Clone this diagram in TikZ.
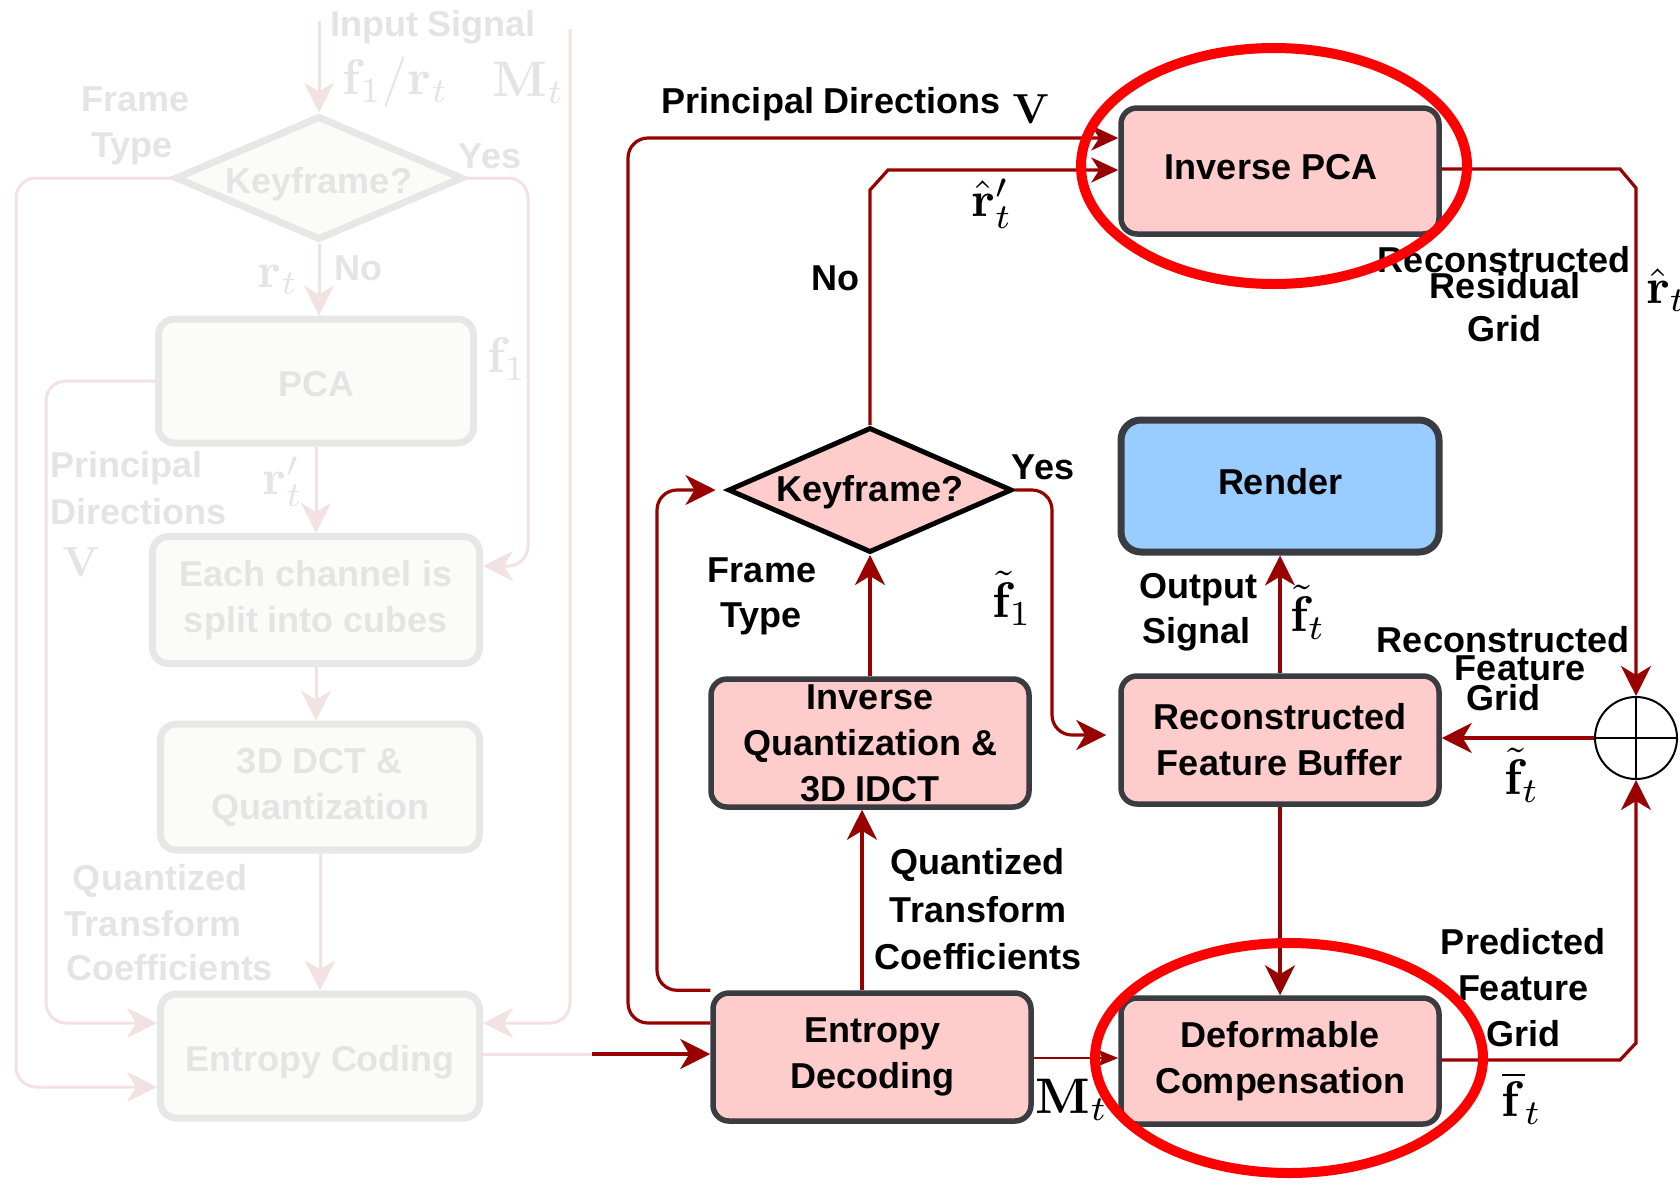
\documentclass[tikz,border=0pt]{standalone}
\usepackage[no-math]{fontspec}
\setmainfont{Liberation Sans}
\usetikzlibrary{arrows.meta,shapes.geometric}
\definecolor{dred}{HTML}{990000}
\definecolor{boxpink}{HTML}{FFCCCC}
\definecolor{boxblue}{HTML}{99CCFF}
\definecolor{boxedge}{HTML}{3B3C41}
\definecolor{fadetext}{HTML}{E4E4E4}
\definecolor{fadeedge}{HTML}{E7E7E7}
\definecolor{fadefill}{HTML}{FBFCF8}
\definecolor{fadeline}{HTML}{F3E2E2}
\definecolor{hired}{HTML}{FF0000}
\begin{document}
\begin{tikzpicture}[x=1pt,y=-1pt,
  mbox/.style={draw=boxedge, line width=5.5pt, fill=boxpink, rounded corners=16pt,
    minimum width=318pt, minimum height=128pt, inner sep=0pt, align=center,
    font=\fontsize{36}{46}\selectfont\bfseries},
  fadebox/.style={draw=fadeedge, line width=7pt, fill=fadefill, rounded corners=16pt,
    inner sep=0pt, align=center, text=fadetext, font=\fontsize{36}{46}\selectfont\bfseries},
  oneline/.style={text height=#1, text depth=0pt},
  oneline/.default=26pt,
  lab/.style={font=\fontsize{36}{40}\selectfont\bfseries, inner sep=0pt, text height=26pt, text depth=0pt},
  flab/.style={lab, text=fadetext},
  mlab/.style={inner sep=0pt, scale=5},
  vlab/.style={inner sep=0pt, scale=4.2},
  fmlab/.style={mlab, text=fadetext},
  conn/.style={draw=dred, line width=3.2pt},
  fconn/.style={draw=fadeline, line width=3pt},
  bigarrow/.style={-{Stealth[length=30pt,width=30pt,inset=9pt]}},
  medarrow/.style={-{Stealth[length=27pt,width=25pt,inset=8pt]}},
  smallarrow/.style={-{Stealth[length=20pt,width=16pt,inset=4pt]}},
]
\useasboundingbox (0,0) rectangle (1680,1184);
\clip (0,0) rectangle (1680,1184);

% ---------------- faded encoder (left) ----------------
\node[diamond, aspect=2.3, draw=fadeedge, line width=7pt, fill=fadefill, minimum width=288pt,
  minimum height=124pt, inner sep=0pt, text=fadetext, oneline=30pt,
  font=\fontsize{36}{46}\selectfont\bfseries] (fkf) at (319,178) {Keyframe?};
\node[fadebox, oneline=30pt, minimum width=315pt, minimum height=124pt] (fpca) at (316,381) {PCA};
\node[fadebox, minimum width=327pt, minimum height=127pt] (fsplit) at (316,600) {Each channel is\\split into cubes};
\node[fadebox, minimum width=319pt, minimum height=126pt] (fdct) at (320,787) {3D DCT \&\\Quantization};
\node[fadebox, oneline=30pt, minimum width=319pt, minimum height=124pt] (fec) at (320,1056) {Entropy Coding};

\coordinate (fin) at (319,21);
\coordinate (fmt) at (570,29);
\coordinate (fout) at (592,1054);

\draw[fconn,bigarrow] (fin) -- (fkf.north);
\draw[fconn,bigarrow] (fkf.south) -- (fkf.south |- fpca.north);
\draw[fconn,bigarrow] (fpca.south) -- (fpca.south |- fsplit.north);
\draw[fconn,bigarrow] (fsplit.south) -- (fsplit.south |- fdct.north);
\draw[fconn,bigarrow] (fdct.south) -- (fdct.south |- fec.north);
\draw[fconn,rounded corners=20pt,bigarrow] (fkf.west) -- (16,178) -- (16,1087) -- (fec.west |- 0,1087);
\draw[fconn,rounded corners=20pt,bigarrow] (fpca.west) -- (46,381) -- (46,1023) -- (fec.west |- 0,1023);
\draw[fconn,rounded corners=20pt,bigarrow] (fkf.east) -- (528,178) -- (528,566) -- (fsplit.east |- 0,566);
\draw[fconn,rounded corners=20pt,bigarrow] (fmt) -- (570,1023) -- (fec.east |- 0,1023);
\draw[fconn] (fec.east |- fout) -- (fout);

\node[flab] (fl1) at (433,23) {Input Signal};
\node[fmlab] (fl2) at (396,82) {$\mathbf{f}_1/\mathbf{r}_t$};
\node[fmlab] (fl3) at (529,83) {$\mathbf{M}_t$};
\node[flab] (fl4) at (136,98) {Frame};
\node[flab] (fl5) at (132,144) {Type};
\node[flab] (fl6) at (490,155) {Yes};
\node[fmlab] (fl7) at (278,280) {$\mathbf{r}_t$};
\node[flab] (fl8) at (358,267) {No};
\node[fmlab] (fl9) at (507,359) {$\mathbf{f}_1$};
\node[flab, anchor=west] (fl10) at (50,464) {Principal};
\node[flab, anchor=west] (fl11) at (50,511) {Directions};
\node[vlab, text=fadetext] (fl12) at (81,562) {$\mathbf{V}$};
\node[fmlab] (fl13) at (283,482) {$\mathbf{r}'_t$};
\node[flab] (fl14) at (160,877) {Quantized};
\node[flab] (fl15) at (153,923) {Transform};
\node[flab] (fl16) at (170,967) {Coefficients};

% ---------------- decoder (right) ----------------
\node[mbox, oneline=16pt, minimum height=126pt] (invpca) at (1280,171) {Inverse PCA\hspace{18pt}};
\node[mbox, oneline=16pt, fill=boxblue, minimum height=132pt, rounded corners=20pt, line width=7pt] (render) at (1280,486) {Render};
\node[mbox] (rfb) at (1280,740) {Reconstructed\\Feature Buffer};
\node[mbox, minimum height=126pt] (dc) at (1280,1061) {Deformable\\Compensation};
\node[mbox] (ed) at (872,1057) {Entropy\\Decoding};
\node[mbox] (iq) at (870,743) {Inverse\\Quantization \&\\3D IDCT};
\node[diamond, aspect=2.27, draw=black, line width=5pt, fill=boxpink, minimum width=284pt,
  minimum height=125pt, inner sep=0pt, oneline=22pt, font=\fontsize{36}{46}\selectfont\bfseries] (kf) at (870,490) {Keyframe?};
\node[circle, draw=black, line width=2pt, minimum size=82pt, inner sep=0pt] (sum) at (1636,738) {};
\draw[line width=2pt] (sum.north) -- (sum.south) (sum.west) -- (sum.east);

\draw[conn,bigarrow] (fout) -- (ed.west |- fout);
\draw[conn,rounded corners=20pt,medarrow] (ed.west |- 0,1023) -- (628,1023) -- (628,138) -- (invpca.west |- 0,138);
\draw[conn,rounded corners=20pt,bigarrow,shorten >=10pt] (ed.north west) -- (ed.north west -| 657,0) -- (657,490) -- (kf.west);
\draw[conn,medarrow] (kf.north) -- (870,190) -- (888,170) -- (invpca.west |- 0,170);
\draw[conn,rounded corners=20pt,bigarrow,shorten >=12pt] (kf.east) -- (1052,490) -- (1052,735) -- (rfb.west |- 0,735);
\draw[conn,bigarrow] (invpca.east |- 0,169) -- (1620,169) -- (1636,188) -- (sum.north);
\draw[conn,bigarrow] (sum.west) -- (rfb.east |- sum.west);
\draw[conn,bigarrow] (dc.east |- 0,1060) -- (1620,1060) -- (1636,1043) -- (sum.south);
\draw[conn,bigarrow] (rfb.north) -- (render.south);
\draw[conn,bigarrow] (rfb.south) -- (dc.north);
\draw[conn,bigarrow] ([xshift=-10pt]ed.north) -- ([xshift=-10pt]ed.north |- iq.south);
\draw[conn,bigarrow] (iq.north) -- (kf.south);
\draw[conn,line width=2.6pt,smallarrow] (ed.east |- 0,1058) -- (dc.west |- 0,1058);

\node[lab] (l1) at (831,100) {Principal Directions};
\node[vlab] (l2) at (1031,109) {$\mathbf{V}$};
\node[mlab] (l3) at (992,204) {$\hat{\mathbf{r}}'_t$};
\node[lab] (l4) at (835,277) {No};
\node[lab] (l5) at (1043,466) {Yes};
\node[lab] (l6) at (762,569) {Frame};
\node[lab] (l7) at (761,614) {Type};
\node[mlab] (l8) at (1012,598) {$\tilde{\mathbf{f}}_1$};
\node[lab] (l9) at (1198,585) {Output};
\node[lab] (l10) at (1196,630) {Signal};
\node[mlab] (l11) at (1308,612) {$\tilde{\mathbf{f}}_t$};
\node[lab] (l12) at (1504,259) {Reconstructed};
\node[lab] (l13) at (1505,285) {Residual};
\node[lab] (l14) at (1504,328) {Grid};
\node[mlab, anchor=west] (l15) at (1645,290) {$\hat{\mathbf{r}}_t$};
\node[lab] (l16) at (1503,639) {Reconstructed};
\node[lab] (l17) at (1520,667) {Feature};
\node[lab] (l18) at (1503,697) {Grid};
\node[mlab] (l19) at (1522,775) {$\tilde{\mathbf{f}}_t$};
\node[lab] (l20) at (977,861) {Quantized};
\node[lab] (l21) at (978,909) {Transform};
\node[lab] (l22) at (978,956) {Coefficients};
\node[mlab] (l23) at (1072,1100) {$\mathbf{M}_t$};
\node[lab] (l24) at (1523,941) {Predicted};
\node[lab] (l25) at (1523,987) {Feature};
\node[lab] (l26) at (1523,1033) {Grid};
\node[mlab] (l27) at (1522,1098) {$\overline{\mathbf{f}}_t$};

% highlight ellipses
\draw[hired, line width=10pt] (1274,166) ellipse [x radius=193pt, y radius=118pt];
\draw[hired, line width=10pt] (1289,1058) ellipse [x radius=194pt, y radius=115pt];
\end{tikzpicture}
\end{document}
